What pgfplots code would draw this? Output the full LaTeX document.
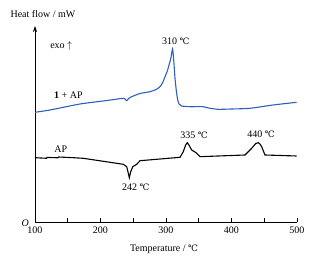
\documentclass[border=0pt]{standalone}
\usepackage{pgfplots}
\pgfplotsset{compat=1.18}
\usepackage{fontspec}
\setmainfont{Liberation Serif}
\newfontfamily\djv[Scale=0.88]{DejaVu Serif}
\usetikzlibrary{arrows.meta}
\definecolor{cblue}{RGB}{45,95,190}
\newcommand{\cel}{{\djv ℃}}
\begin{document}
\begin{tikzpicture}
\path[use as bounding box] (-35pt,-43pt) rectangle (287pt,222pt);
\begin{axis}[
  at={(0,0)}, anchor=south west,
  scale only axis, width=262pt, height=196pt,
  xmin=100, xmax=500, ymin=0, ymax=196,
  axis lines*=left,
  y axis line style={-{Stealth[length=6pt,width=4pt]}, line width=0.8pt},
  x axis line style={line width=0.8pt},
  xtick={100,200,...,500},
  minor xtick={150,250,350,450},
  ytick=\empty,
  tick align=inside,
  major tick length=3.5pt, minor tick length=3.5pt,
  every tick/.style={black, line width=0.8pt},
  tick label style={font=\fontsize{10}{12}\selectfont},
  /pgf/number format/assume math mode=true,
  xticklabel style={yshift=-1pt},
  clip=false,
  every node/.style={font=\fontsize{10}{12}\selectfont},
]
\addplot[cblue, line width=1.1pt, smooth, tension=0.4] coordinates {
(100,109.7) (122.9,112) (168.7,118) (210,121.5) (234.4,123.7) (238,122.5) (240,121.3) (243,123.5) (247.6,125.3)
(260.3,128.5) (275.6,130.3) (285,132.5) (290.8,135.3) (295,139.5) (298.5,145.3) (302,151) (304.6,157) (307.5,164) (310,173)
(312,160) (313.7,144) (316,130) (317.9,122) (320,118) (324,116) (336.6,115.3) (356.5,115.3) (365,114) (379.4,112.7)
(400,113) (428.2,113.7) (463.4,117) (499.5,119.7)
};
\addplot[black, line width=1.1pt] coordinates {
(100,64.3) (117.9,63.7) (118.5,64.6) (135,64.2) (136,65) (158.5,64.3) (173.7,63.7) (234.8,57.7) (240,55.3) (242,50) (244,44.3)
(246,50) (249.2,55.3) (255.3,57.7) (260.3,61.3) (321.4,64.7) (326.4,70.3) (330,77) (332.5,79.3) (335,77) (339.2,72) (345.8,69.3)
(351.9,65.3) (379.4,66) (420.6,67) (430.8,73.7) (437,78.5) (440.9,79.3) (443.5,78) (446.1,75.3) (451.1,67) (499.5,66)
};
\node[anchor=west] at (axis cs:57.3,208) {Heat flow / mW};
\node[anchor=west] at (axis cs:117.9,176) {exo $\uparrow$};
\node at (axis cs:151,127) {\textbf{1} + AP};
\node at (axis cs:315,180.3) {310 \cel};
\node at (axis cs:139.4,73) {AP};
\node at (axis cs:254,35) {242 \cel};
\node at (axis cs:342.7,87) {335 \cel};
\node at (axis cs:445,88) {440 \cel};
\node at (axis cs:297,-27) {Temperature / \cel};
\node at (axis cs:85,-1) {\textit{O}};
\end{axis}
\end{tikzpicture}
\end{document}
